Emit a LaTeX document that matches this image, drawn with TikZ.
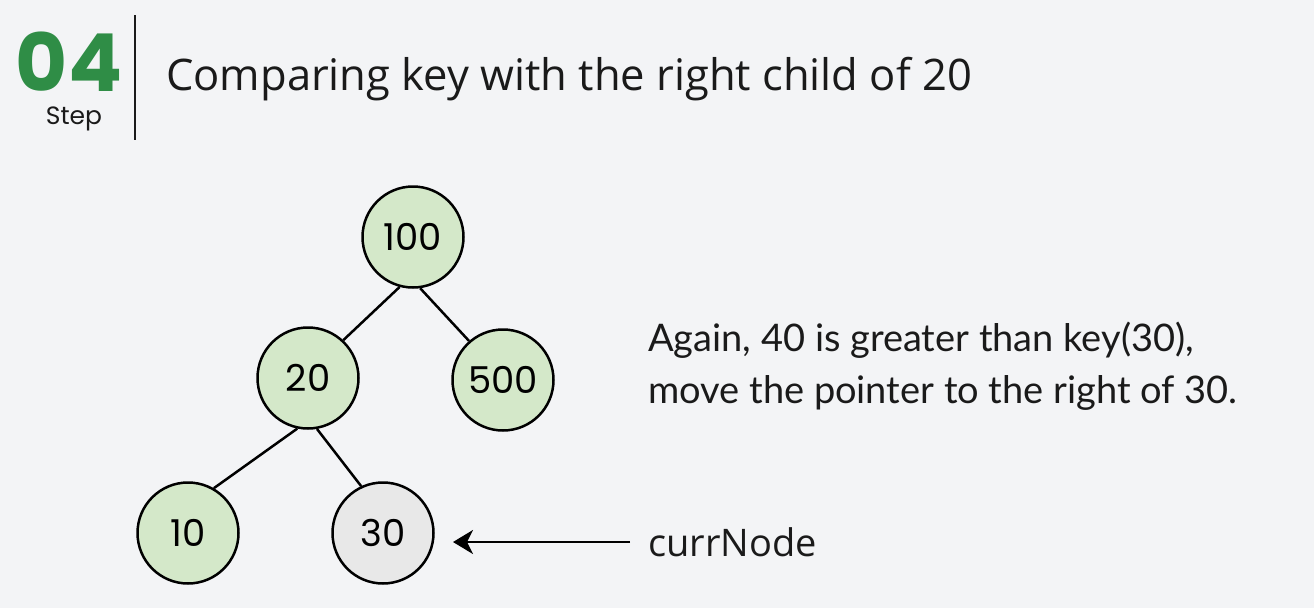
\documentclass[tikz,border=0pt]{standalone}
\usepackage{fontspec}
\usepackage{tikz}
\usetikzlibrary{arrows.meta}
\setmainfont{Open Sans}
\newfontfamily\popfont{Poppins}
\newfontfamily\notefont{Lato}
\definecolor{bgpage}{HTML}{F3F4F6}
\definecolor{leafgreen}{HTML}{D4E8C9}
\definecolor{curgrey}{HTML}{E8E8E8}
\definecolor{stepgreen}{HTML}{2F8D46}
\definecolor{ink}{HTML}{1A1A1A}

\begin{document}
\begin{tikzpicture}[x=1pt,y=1pt]
\tikzstyle{key}=[draw=black,line width=2.5pt,circle,minimum size=101pt,inner sep=0pt,fill=leafgreen,font=\popfont\fontsize{37}{40}\selectfont]
\tikzstyle{txt}=[inner sep=0pt,text=ink,font=\fontsize{38}{48}\selectfont]
\tikzstyle{notetxt}=[inner sep=0pt,text=ink,anchor=base west,font=\notefont\fontsize{38}{48}\selectfont]
\tikzstyle{edge}=[black,line width=2.5pt]
\tikzstyle{ptr}=[black,line width=2.5pt,-{Stealth[length=20pt,width=24pt,inset=6pt]}]
\useasboundingbox (0,0) rectangle (1314,-608);
\fill [bgpage] (0,0) rectangle (1314,-608);
% header
\node [anchor=base,text=stepgreen,inner sep=0pt,font=\popfont\bfseries\fontsize{80}{80}\selectfont] (num) at (69,-91) {04};
\node [anchor=base,text=ink,inner sep=0pt,font=\popfont\fontsize{25}{25}\selectfont] (steplbl) at (74,-124) {Step};
\draw [ink,line width=2pt] (135,-15) -- (135,-140);
\node [txt,anchor=base west,font=\fontsize{43.5}{50}\selectfont] (title) at (166,-90) {Comparing key with the right child of 20};
% tree
\node [key] (n100) at (413,-237) {100};
\node [key] (n20) at (308,-378) {20};
\node [key] (n500) at (503,-380) {500};
\node [key] (n10) at (188,-533) {10};
\node [key,fill=curgrey] (n30) at (383,-533) {30};
\draw [edge] (n100.255) -- (n20.47);
\draw [edge] (n100.278) -- (n500.131);
\draw [edge] (n20.258) -- (n10.60);
\draw [edge] (n20.280) -- (n30.115);
% pointer
\coordinate (tip) at (453,-542);
\node [txt,anchor=west,inner xsep=18pt] (cur) at (630,-542) {currNode};
\draw [ptr] (cur.west) -- (tip);
% note
\node [notetxt] (note1) at (648,-351) {Again, 40 is greater than key(30),};
\node [notetxt] (note2) at (648,-403) {move the pointer to the right of 30.};
\end{tikzpicture}
\end{document}
